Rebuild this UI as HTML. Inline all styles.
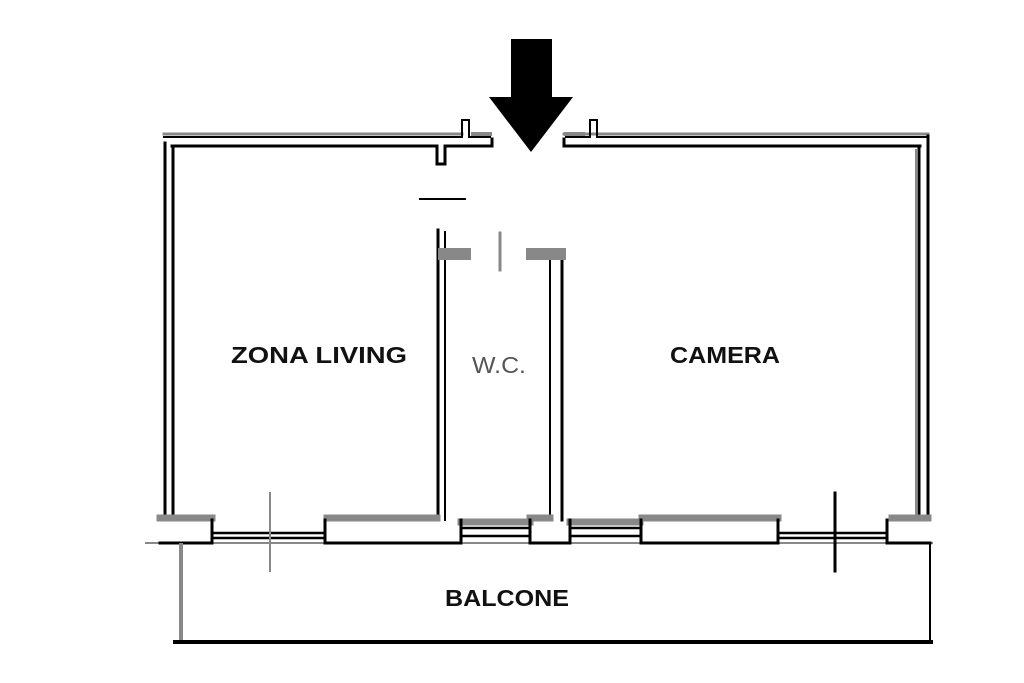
<!DOCTYPE html>
<html><head><style>html,body{margin:0;padding:0;background:#fff}svg{display:block}</style></head>
<body>
<svg width="1024" height="683" viewBox="0 0 1024 683" xmlns="http://www.w3.org/2000/svg">
<rect width="1024" height="683" fill="#fff"/>
<g fill="none" stroke-linecap="square">
<!-- top outer wall -->
<path d="M164 134 H462 M564 134 H928" stroke="#888" stroke-width="3"/>
<path d="M164 137 H462 V120 H469 V137 H490 M566 137 H590 V120 H597 V137 H928" stroke="#000" stroke-width="2"/>
<path d="M473 134 H490 M566 134 H583" stroke="#888" stroke-width="4"/>
<!-- top inner wall -->
<path d="M172 146 H437 V164 H445 V146 H492 V139 M564 139 V146 H920" stroke="#000" stroke-width="3"/>
<!-- left walls -->
<path d="M165 143 V518" stroke="#000" stroke-width="3"/>
<path d="M173 147 V518" stroke="#000" stroke-width="3"/>
<!-- right walls -->
<path d="M928 136 V518" stroke="#000" stroke-width="3"/>
<path d="M919 147 V518" stroke="#000" stroke-width="3"/>
<path d="M916 150 V518" stroke="#888" stroke-width="2"/>
<!-- partitions -->
<path d="M438 230 V520" stroke="#000" stroke-width="3"/>
<path d="M445 232 V520" stroke="#000" stroke-width="2"/>
<path d="M550 252 V520" stroke="#000" stroke-width="2"/>
<path d="M562 250 V520" stroke="#000" stroke-width="3"/>
<path d="M444 254 H465 M532 254 H560" stroke="#888" stroke-width="12"/>
<path d="M500 233 V270" stroke="#888" stroke-width="3"/>
<path d="M420 199 H465" stroke="#000" stroke-width="2"/>
<!-- bottom pier tops (gray) -->
<path d="M160 518 H212 M327 518 H437 M461 522 H530 M530 518 H550 M570 522 H640 M642 518 H778 M892 518 H928" stroke="#888" stroke-width="7"/>
<!-- pier outlines -->
<path d="M212 520 V543 M325 520 V543 M461 520 V543 M530 520 V543 M570 520 V543 M641 520 V543 M778 520 V543 M887 520 V543" stroke="#000" stroke-width="3"/>
<!-- windows double lines -->
<path d="M213 533 H325 M213 538 H325 M461 528 H530 M461 536 H530 M570 528 H641 M570 536 H641 M778 533 H887 M778 538 H887" stroke="#000" stroke-width="2.5"/>
<!-- ground line -->
<path d="M146 543 H932" stroke="#888" stroke-width="2"/>
<path d="M160 543 H212 M325 543 H461 M530 543 H570 M641 543 H778 M887 543 H930" stroke="#000" stroke-width="3"/>
<!-- crosses -->
<path d="M270 493 V571" stroke="#888" stroke-width="2"/>
<path d="M835 493 V571" stroke="#000" stroke-width="3"/>
<!-- balcony -->
<path d="M181 545 V641" stroke="#888" stroke-width="4"/>
<path d="M175 642 H931" stroke="#000" stroke-width="4"/>
<path d="M930 543 V642" stroke="#000" stroke-width="2"/>
</g>
<!-- arrow -->
<rect x="511" y="39" width="41" height="59" fill="#000"/>
<polygon points="489,97 573,97 531,152" fill="#000"/>
<g font-family="Liberation Sans, sans-serif" font-weight="bold" font-size="23" text-anchor="middle" fill="#111">
<text x="319" y="363" textLength="176" lengthAdjust="spacingAndGlyphs">ZONA LIVING</text>
<text x="725" y="363" textLength="110" lengthAdjust="spacingAndGlyphs">CAMERA</text>
<text x="507" y="606" textLength="124" lengthAdjust="spacingAndGlyphs">BALCONE</text>
</g>
<text x="499" y="373" font-family="Liberation Sans, sans-serif" font-size="23" text-anchor="middle" fill="#555" textLength="54" lengthAdjust="spacingAndGlyphs">W.C.</text>
</svg>
</body></html>
